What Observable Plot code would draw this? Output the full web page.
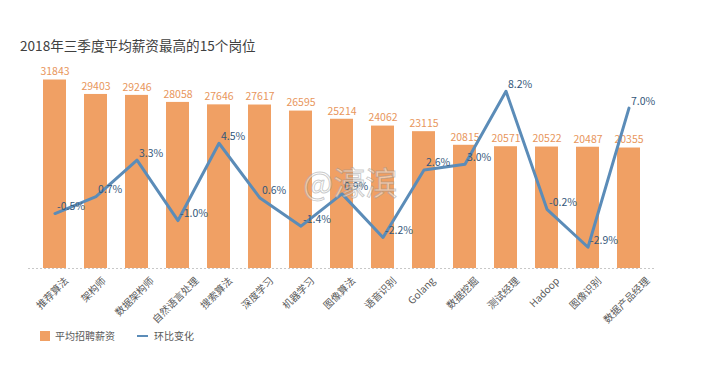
<!DOCTYPE html>
<html>
<head>
<meta charset="utf-8">
<script src="https://cdn.jsdelivr.net/npm/d3@7"></script>
<script src="https://cdn.jsdelivr.net/npm/@observablehq/plot@0.6"></script>
<style>
  body { margin: 0; background: #fff; font-family: "Noto Sans CJK SC", "Noto Sans", sans-serif; }
  #wrap { position: relative; width: 701px; height: 369px; overflow: hidden; }
  #title { position: absolute; left: 20px; top: 35px; font-size: 13.6px; color: #404040; white-space: nowrap; }
  #chart { position: absolute; left: 0; top: 60px; }
  #legend { position: absolute; left: 40px; top: 328px; font-size: 10px; color: #595959; display: flex; align-items: center; }
  .sw { display: inline-block; width: 10px; height: 10px; background: #f0a064; margin-right: 5px; }
  .ln { display: inline-block; width: 11px; height: 2px; background: #5b8cb8; margin-left: 22px; margin-right: 6px; }
  #wm { position: absolute; left: 303px; top: 158px; font-size: 32px; color: rgba(255,255,255,0.45); -webkit-text-stroke: 1px rgba(140,140,140,0.45); white-space: nowrap; }
</style>
</head>
<body>
<div id="wrap">
  <div id="title">2018年三季度平均薪资最高的15个岗位</div>
  <div id="chart"></div>
  <div id="wm">@濠滨</div>
  <div id="legend"><span class="sw"></span><span>平均招聘薪资</span><span class="ln"></span><span>环比变化</span></div>
</div>
<script>
const categories = ["推荐算法","架构师","数据架构师","自然语言处理","搜索算法","深度学习","机器学习","图像算法","语音识别","Golang","数据挖掘","测试经理","Hadoop","图像识别","数据产品经理"];
const salaries = [31843,29403,29246,28058,27646,27617,26595,25214,24062,23115,20815,20571,20522,20487,20355];
const changes = [-0.5,0.7,3.3,-1.0,4.5,0.6,-1.4,0.9,-2.2,2.6,3.0,8.2,-0.2,-2.9,7.0];

// secondary axis for the percent line, expressed in salary units
const V0 = 10474, U = 2374;
const toY = p => V0 + U * p;

const data = categories.map((c, i) => ({cat: c, salary: salaries[i], change: changes[i], cy: toY(changes[i])}));

// measure label widths so each rotated label's bounding box is centred under its bar
const FS = 10;
const ctx = document.createElement("canvas").getContext("2d");
ctx.font = FS + "px 'Noto Sans CJK SC'";
const tickLabels = categories.map(c => {
  const L = ctx.measureText(c).width;
  return Plot.text([c], {
    x: d => d, frameAnchor: "bottom", text: d => d,
    rotate: -45, textAnchor: "end", fontSize: FS, fill: "#595959",
    dx: L * Math.SQRT1_2 / 2, dy: 13
  });
});

const chart = Plot.plot({
  width: 701,
  height: 280,
  marginTop: 10,
  marginBottom: 72,
  marginLeft: 28,
  marginRight: 46,
  style: {fontFamily: "'Noto Sans CJK SC', sans-serif", fontSize: "10px", color: "#595959", background: "transparent"},
  x: {domain: categories, paddingInner: 0.45, paddingOuter: 0.225, axis: null},
  y: {domain: [0, 33450], axis: null},
  marks: [
    Plot.barY(data, {x: "cat", y: "salary", fill: "#f0a064"}),
    Plot.ruleY([0], {stroke: "#c8c8c8", strokeDasharray: "2,2"}),
    ...tickLabels,
    Plot.text(data, {x: "cat", y: "salary", text: d => String(d.salary), dy: -8, fill: "#e8965c", fontSize: 10.5}),
    Plot.line(data, {x: "cat", y: "cy", stroke: "#5b8cb8", strokeWidth: 3}),
    Plot.text(data, {x: "cat", y: "cy", text: d => d.change.toFixed(1) + "%", dx: 2, dy: -7, textAnchor: "start", fill: "#34577a", fontSize: 10.5})
  ]
});
document.getElementById("chart").appendChild(chart);
</script>
</body>
</html>
